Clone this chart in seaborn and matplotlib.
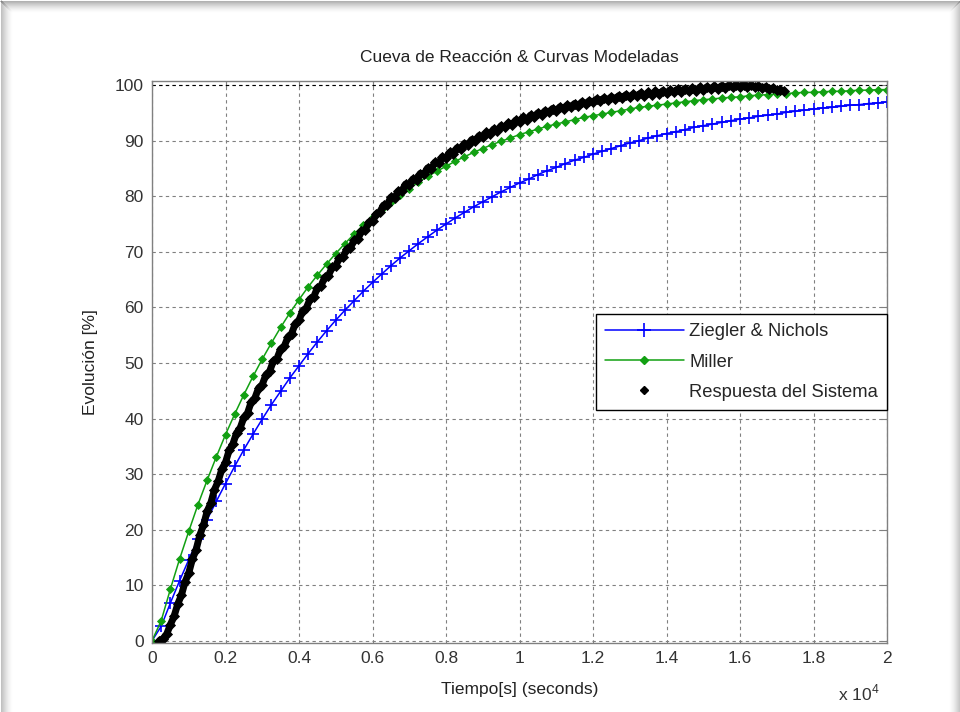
import numpy as np
import matplotlib
matplotlib.use("Agg")
import matplotlib.pyplot as plt
from matplotlib.lines import Line2D
from matplotlib.legend_handler import HandlerLine2D
import seaborn as sns

# sample times (x 10^4 s)
t_model = np.round(np.arange(0, 2.0001, 0.025), 3)
t_sys = np.round(np.arange(0.02, 1.7201, 0.01), 2)

# Ziegler & Nichols model (%)
ziegler_nichols = [0, 2.6, 6.8, 10.8, 14.6, 18.3, 21.8, 25.1, 28.3, 31.4, 34.4, 37.2, 39.9,
                   42.5, 44.9, 47.3, 49.5, 51.7, 53.8, 55.8, 57.7, 59.5, 61.2, 62.9, 64.5,
                   66.0, 67.5, 68.9, 70.2, 71.5, 72.7, 73.9, 75.0, 76.1, 77.1, 78.1, 79.0,
                   79.9, 80.8, 81.6, 82.4, 83.1, 83.9, 84.6, 85.2, 85.9, 86.5, 87.0, 87.6,
                   88.1, 88.6, 89.1, 89.6, 90.0, 90.5, 90.9, 91.3, 91.6, 92.0, 92.4, 92.7,
                   93.0, 93.3, 93.6, 93.9, 94.1, 94.4, 94.6, 94.8, 95.1, 95.3, 95.5, 95.7,
                   95.9, 96.0, 96.2, 96.4, 96.5, 96.7, 96.8, 97.0]

# Miller model (%)
miller = [0, 3.6, 9.3, 14.7, 19.7, 24.5, 28.9, 33.1, 37.1, 40.8, 44.3, 47.6, 50.7, 53.6,
          56.4, 59.0, 61.4, 63.7, 65.8, 67.8, 69.7, 71.5, 73.2, 74.8, 76.3, 77.7, 79.0,
          80.3, 81.4, 82.5, 83.6, 84.5, 85.4, 86.3, 87.1, 87.9, 88.6, 89.3, 89.9, 90.5,
          91.1, 91.6, 92.1, 92.6, 93.0, 93.4, 93.8, 94.2, 94.5, 94.8, 95.1, 95.4, 95.7,
          96.0, 96.2, 96.4, 96.6, 96.8, 97.0, 97.2, 97.4, 97.5, 97.7, 97.8, 97.9, 98.1,
          98.2, 98.3, 98.4, 98.5, 98.6, 98.7, 98.7, 98.8, 98.9, 98.9, 99.0, 99.1, 99.1,
          99.2, 99.2]

# measured system response (%)
respuesta = [0.0, 0.4, 1.2, 2.9, 4.4, 6.6, 8.2, 10.6, 12.2, 14.7, 16.4, 19.0, 20.8, 23.3,
             24.8, 27.2, 28.7, 30.9, 32.1, 34.3, 35.4, 37.4, 38.3, 40.2, 41.0, 43.0, 43.7,
             45.5, 46.1, 47.9, 48.5, 50.3, 50.8, 52.5, 53.0, 54.7, 55.3, 57.1, 57.7, 59.4,
             59.9, 61.5, 61.9, 63.5, 63.9, 65.4, 65.7, 67.2, 67.5, 68.9, 69.1, 70.5, 70.7,
             72.1, 72.3, 73.7, 73.9, 75.3, 75.5, 76.8, 77.2, 78.4, 78.5, 79.8, 79.7, 80.9,
             81.0, 82.2, 82.0, 83.1, 83.0, 84.1, 84.0, 85.1, 85.0, 86.1, 86.0, 87.1, 86.9,
             87.9, 87.7, 88.7, 88.5, 89.5, 89.3, 90.2, 90.0, 90.9, 90.6, 91.5, 91.2, 92.1,
             91.8, 92.7, 92.4, 93.2, 92.9, 93.7, 93.4, 94.2, 93.8, 94.6, 94.3, 95.0, 94.7,
             95.4, 95.1, 95.8, 95.4, 96.1, 95.8, 96.4, 96.1, 96.7, 96.3, 97.0, 96.6, 97.2,
             96.9, 97.5, 97.1, 97.7, 97.3, 97.9, 97.5, 98.1, 97.7, 98.3, 97.8, 98.4, 98.0,
             98.6, 98.1, 98.7, 98.3, 98.9, 98.4, 99.0, 98.6, 99.1, 98.7, 99.3, 98.8, 99.4,
             98.9, 99.5, 99.0, 99.6, 99.2, 99.7, 99.3, 99.8, 99.4, 99.9, 99.5, 100.0, 99.6,
             100.1, 99.7, 100.1, 99.7, 100.0, 99.6, 99.9, 99.5, 99.7, 99.3, 99.5, 99.1, 99.2,
             98.9]

BLUE = "#0000ff"
GREEN = "#12a012"
GRAY = "#808080"
FS = 12.5

sns.set_style("white")
plt.rcParams['font.family'] = ['Liberation Sans', 'DejaVu Sans']
plt.rcParams['mathtext.fontset'] = 'custom'
plt.rcParams['mathtext.rm'] = 'Liberation Sans'

fig = plt.figure(figsize=(9.6, 7.12), dpi=100)
ax = fig.add_axes([152 / 960, 1 - 643 / 712, 735 / 960, 562 / 712])

# window shadow around the figure
for i in range(12):
    a = 0.30 * (1 - i / 12) ** 1.6
    fig.add_artist(Line2D([i / 960, 1 - i / 960], [1 - (i + 0.5) / 712] * 2,
                          transform=fig.transFigure, color="black", alpha=a, lw=0.75))
    fig.add_artist(Line2D([(i + 0.5) / 960] * 2, [0, 1 - i / 712],
                          transform=fig.transFigure, color="black", alpha=a * 0.8, lw=0.75))
    fig.add_artist(Line2D([1 - (i + 0.5) / 960] * 2, [0, 1 - i / 712],
                          transform=fig.transFigure, color="black", alpha=a * 0.8, lw=0.75))

ax.grid(True, color=GRAY, linestyle=(0, (3, 3)), linewidth=0.8)
ax.axhline(100, color="black", linestyle=(0, (3, 3)), linewidth=0.8, zorder=1)

sns.lineplot(x=t_model, y=ziegler_nichols, ax=ax, color=BLUE, linewidth=1.1,
             marker="+", markersize=8, markeredgewidth=1.2, markeredgecolor=BLUE,
             estimator=None, sort=False)
sns.lineplot(x=t_model, y=miller, ax=ax, color=GREEN, linewidth=1.1,
             marker="D", markersize=3.6, markeredgewidth=0.6, markeredgecolor=GREEN,
             markerfacecolor=GREEN, estimator=None, sort=False)
# dense samples of the measured response: markers merge into a thick band
sns.lineplot(x=t_sys, y=respuesta, ax=ax, color="black", linewidth=5.0,
             marker="D", markersize=5.2, markeredgewidth=0.6, markeredgecolor="black",
             markerfacecolor="black", estimator=None, sort=False)

ax.set_xlim(0, 2)
ax.set_ylim(-0.4, 100.75)
ax.set_xticks(np.arange(0, 2.01, 0.2))
ax.set_xticklabels(["0", "0.2", "0.4", "0.6", "0.8", "1", "1.2", "1.4", "1.6", "1.8", "2"])
ax.set_yticks(np.arange(0, 101, 10))

for s in ax.spines.values():
    s.set_color(GRAY)
    s.set_linewidth(1.0)
ax.tick_params(direction="in", length=4, color=GRAY, labelsize=FS,
               labelcolor="#333333", top=True, right=True, pad=6)

ax.text(0.5, 1.041, "Cueva de Reacción & Curvas Modeladas", transform=ax.transAxes,
        ha="center", va="center", fontsize=FS, color="#222222")
ax.set_xlabel("Tiempo[s] (seconds)", fontsize=FS, color="#222222")
ax.xaxis.set_label_coords(0.5, -0.07)
ax.set_ylabel("Evolución [%]", fontsize=FS, color="#222222")
ax.yaxis.set_label_coords(-0.074, 0.5)
ax.text(0.962, -0.089, r"x 10$^{4}$", transform=ax.transAxes, ha="center", va="center",
        fontsize=FS, color="#333333")

h_zn = Line2D([], [], color=BLUE, lw=1.1, marker="+", markersize=10, markeredgewidth=1.2)
h_mi = Line2D([], [], color=GREEN, lw=1.1, marker="D", markersize=3.8)
h_rs = Line2D([], [], color="black", linestyle="", marker="D", markersize=4.4)
leg = ax.legend([h_zn, h_mi, h_rs], ["Ziegler & Nichols", "Miller", "Respuesta del Sistema"],
                loc="upper right", bbox_to_anchor=(1.0, 0.585), borderaxespad=0,
                fontsize=13.2, handlelength=4.3, handletextpad=0.3, labelspacing=0.72,
                borderpad=0.5, fancybox=False, framealpha=1, edgecolor="black",
                handler_map={h_rs: HandlerLine2D(numpoints=1)})
leg.get_frame().set_linewidth(1.0)

fig.savefig("out.png", dpi=100, facecolor="white")
